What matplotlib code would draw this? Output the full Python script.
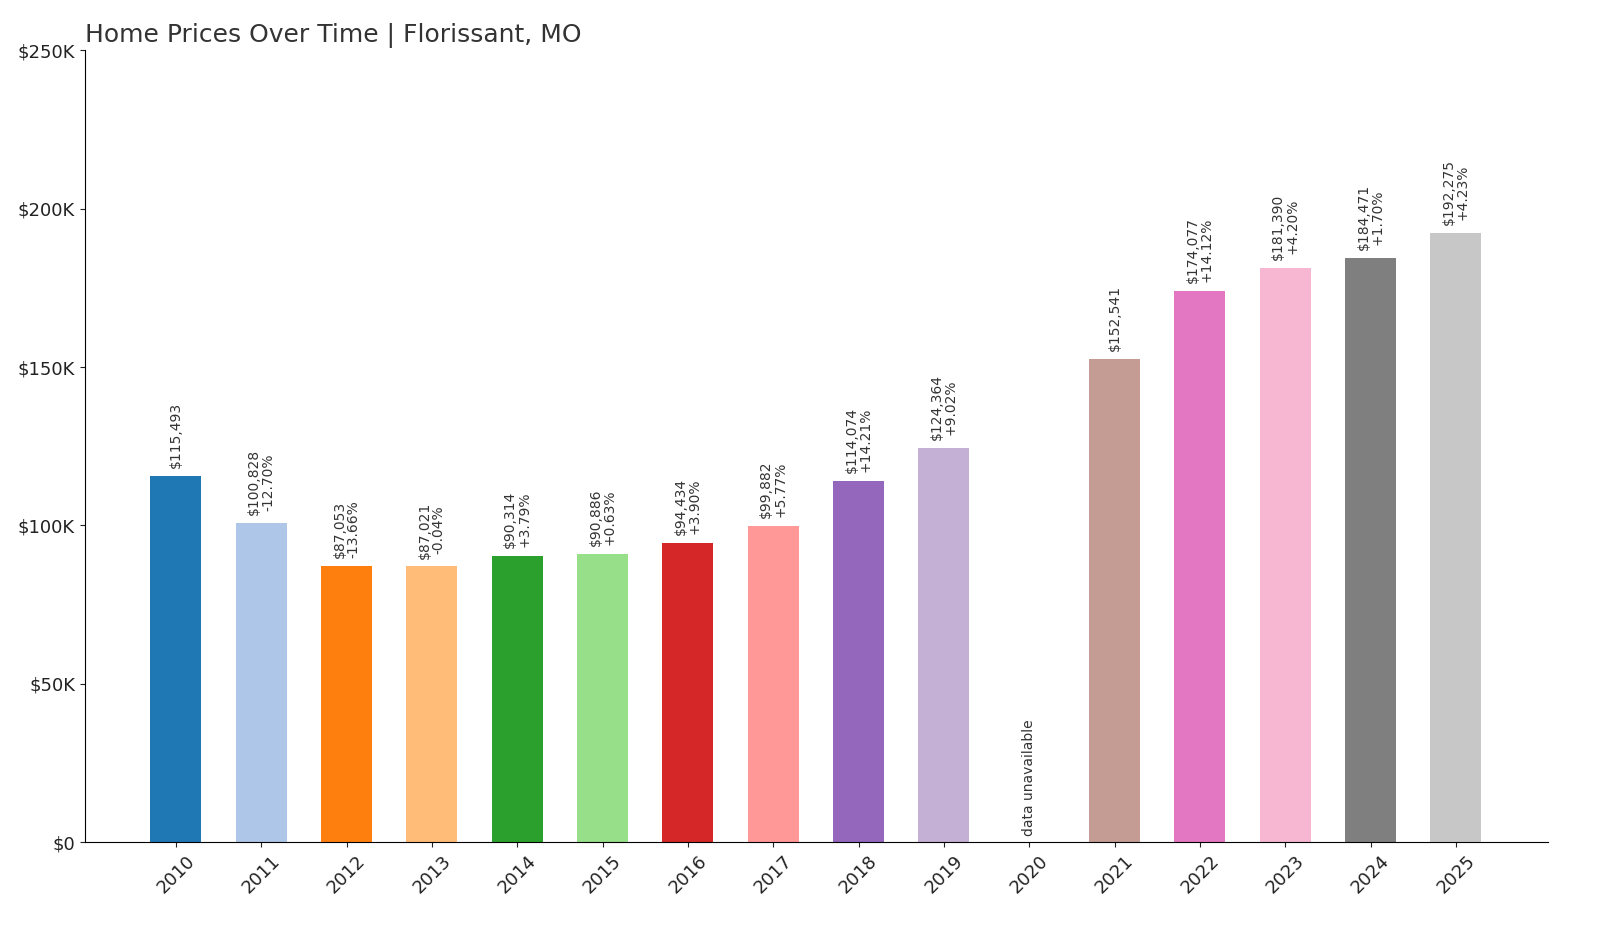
import matplotlib
matplotlib.use("Agg")
import matplotlib.pyplot as plt
import numpy as np

years = ["2010","2011","2012","2013","2014","2015","2016","2017","2018","2019","2020","2021","2022","2023","2024","2025"]
values = [115493,100828,87053,87021,90314,90886,94434,99882,114074,124364,None,152541,174077,181390,184471,192275]
changes = [None,"-12.70%","-13.66%","-0.04%","+3.79%","+0.63%","+3.90%","+5.77%","+14.21%","+9.02%",None,None,"+14.12%","+4.20%","+1.70%","+4.23%"]
yticks = [0,50000,100000,150000,200000,250000]
ytick_labels = ["$0","$50K","$100K","$150K","$200K","$250K"]

fig = plt.figure(figsize=(16,9.33), dpi=100)
ax = fig.add_axes([0.053,0.0975,0.9145,0.8485])
cmap = plt.get_cmap("tab20")
x = np.arange(len(years))
for i,(v,c) in enumerate(zip(values,changes)):
    if v is None:
        ax.text(i, 2000, "data unavailable", rotation=90, ha="center", va="bottom", fontsize=10, color="#333333")
        continue
    ax.bar(i, v, width=0.6, color=cmap(i))
    lbl = f"${v:,}" + (f"\n{c}" if c else "")
    ax.text(i, v+2500, lbl, rotation=90, ha="center", va="bottom", fontsize=10, color="#333333", linespacing=1.0)
ax.set_xticks(x)
ax.set_xticklabels(years, rotation=45, fontsize=13)
ax.set_yticks(yticks)
ax.set_yticklabels(ytick_labels, fontsize=13)
ax.set_ylim(0,250000)
ax.set_xlim(-1.067,16.08)
for s in ["top","right"]:
    ax.spines[s].set_visible(False)
ax.tick_params(colors="#222222")
ax.set_title("Home Prices Over Time | Florissant, MO", loc="left", fontsize=18, color="#333333", x=0.0, y=1.0)
fig.savefig("out.png", dpi=100)
